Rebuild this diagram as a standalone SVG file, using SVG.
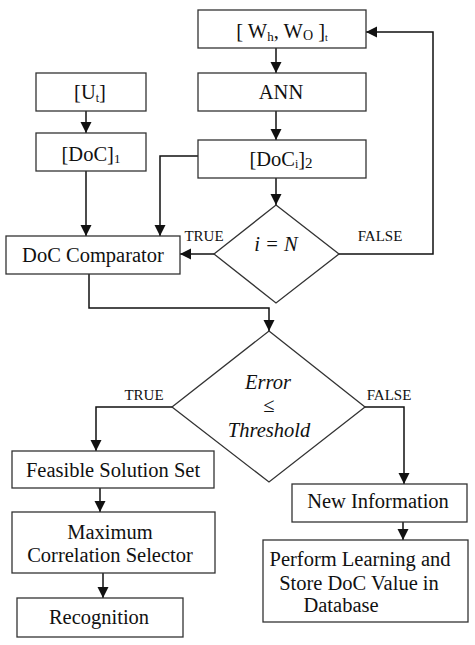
<svg xmlns="http://www.w3.org/2000/svg" width="475" height="645" viewBox="0 0 475 645">
<style>
.box{fill:#fff;stroke:#333;stroke-width:1.3}
.ln{fill:none;stroke:#111;stroke-width:1.5}
.t{font-family:"Liberation Serif","Times New Roman",serif;font-size:20.5px;fill:#111;text-anchor:middle}
.lbl{font-family:"Liberation Serif","Times New Roman",serif;font-size:15px;fill:#111;text-anchor:middle}
.it{font-style:italic}
</style>
<defs>
<marker id="ah" markerUnits="userSpaceOnUse" markerWidth="12" markerHeight="12" refX="11" refY="5.5" orient="auto">
<path d="M0,0 L11,5.5 L0,11 z" fill="#111"/>
</marker>
</defs>
<rect width="475" height="645" fill="#fff"/>
<g id="connectors">
<path class="ln" d="M276,48 V73" marker-end="url(#ah)"/>
<path class="ln" d="M276,111 V140" marker-end="url(#ah)"/>
<path class="ln" d="M86,111 V133" marker-end="url(#ah)"/>
<path class="ln" d="M86,171 V236" marker-end="url(#ah)"/>
<path class="ln" d="M198,156 H160 V236" marker-end="url(#ah)"/>
<path class="ln" d="M276,178 V205" marker-end="url(#ah)"/>
<path class="ln" d="M214,254 H180" marker-end="url(#ah)"/>
<path class="ln" d="M339,254 H433 V32 H366" marker-end="url(#ah)"/>
<path class="ln" d="M89,274 V308 H269 V331" marker-end="url(#ah)"/>
<path class="ln" d="M172,407 H96 V451" marker-end="url(#ah)"/>
<path class="ln" d="M365,407 H404 V484" marker-end="url(#ah)"/>
<path class="ln" d="M100,488 V512" marker-end="url(#ah)"/>
<path class="ln" d="M103,573 V598" marker-end="url(#ah)"/>
<path class="ln" d="M403,522 V540" marker-end="url(#ah)"/>
<text class="lbl" x="204" y="241">TRUE</text>
<text class="lbl" x="380" y="241">FALSE</text>
<text class="lbl" x="144" y="400">TRUE</text>
<text class="lbl" x="389" y="400">FALSE</text>
</g>
<g id="weights">
<rect class="box" x="198" y="10" width="168" height="38"/>
<text class="t" x="282" y="38">[ W<tspan font-size="13" dy="3">h</tspan><tspan dy="-3">, W</tspan><tspan font-size="14" dy="2">O</tspan><tspan dy="-2"> ]</tspan><tspan font-size="10" dy="3">t</tspan></text>
</g>
<g id="ann">
<rect class="box" x="198" y="73" width="168" height="38"/>
<text class="t" x="281" y="99">ANN</text>
</g>
<g id="ut">
<rect class="box" x="36" y="73" width="110" height="38"/>
<text class="t" x="90" y="99">[U<tspan font-size="12" dy="3">t</tspan><tspan dy="-3">]</tspan></text>
</g>
<g id="doc1">
<rect class="box" x="36" y="133" width="110" height="38"/>
<text class="t" x="91" y="161">[DoC]<tspan font-size="13" dy="2">1</tspan></text>
</g>
<g id="doc2">
<rect class="box" x="198" y="140" width="168" height="38"/>
<text class="t" x="281" y="166">[DoC<tspan font-size="12" dy="2">i</tspan><tspan dy="-2">]</tspan><tspan font-size="15" dy="2">2</tspan></text>
</g>
<g id="cond1">
<path class="box" d="M276,205 L339,254 L276,303 L214,254 Z"/>
<text class="t it" x="276" y="251">i = N</text>
</g>
<g id="comparator">
<rect class="box" x="6" y="236" width="174" height="38"/>
<text class="t" x="93" y="262">DoC Comparator</text>
</g>
<g id="cond2">
<path class="box" d="M269,331 L365,407 L269,482 L172,407 Z"/>
<text class="t it" x="268" y="389">Error</text>
<text class="t" x="269" y="412">≤</text>
<text class="t it" x="269" y="437">Threshold</text>
</g>
<g id="feasible">
<rect class="box" x="12" y="451" width="202" height="37"/>
<text class="t" x="113" y="477">Feasible Solution Set</text>
</g>
<g id="maxcorr">
<rect class="box" x="12" y="512" width="203" height="61"/>
<text class="t" x="110" y="539">Maximum</text>
<text class="t" x="110" y="562">Correlation Selector</text>
</g>
<g id="recognition">
<rect class="box" x="17" y="598" width="166" height="39"/>
<text class="t" x="99" y="624">Recognition</text>
</g>
<g id="newinfo">
<rect class="box" x="292" y="484" width="175" height="38"/>
<text class="t" x="378" y="508">New Information</text>
</g>
<g id="learning">
<rect class="box" x="263" y="540" width="205" height="82"/>
<text class="t" x="360" y="566">Perform Learning and</text>
<text class="t" x="359" y="590">Store DoC Value in</text>
<text class="t" x="341" y="612">Database</text>
</g>
</svg>
